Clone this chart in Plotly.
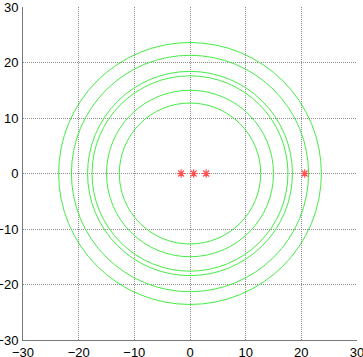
import plotly.graph_objects as go

# Circle radii (all centred at origin)
circle_cx = [0, 0, 0, 0, 0, 0]
circle_cy = [0, 0, 0, 0, 0, 0]
circle_r = [23.6, 21.3, 18.4, 17.6, 15.0, 12.7]

# Red star markers
star_x = [-1.6, 0.65, 2.9, 20.6]
star_y = [0, 0, 0, 0]

tick_vals = [-30, -20, -10, 0, 10, 20, 30]

fig = go.Figure()

fig.add_trace(go.Scatter(
    x=star_x, y=star_y, mode="markers",
    marker=dict(symbol="asterisk-open", size=7, color="rgb(255,80,80)",
                line=dict(color="rgb(255,70,70)", width=1.2)),
    showlegend=False, hoverinfo="skip"))

for cx, cy, r in zip(circle_cx, circle_cy, circle_r):
    fig.add_shape(type="circle", xref="x", yref="y",
                  x0=cx - r, x1=cx + r, y0=cy - r, y1=cy + r,
                  line=dict(color="rgb(70,235,70)", width=1))

axis_common = dict(
    range=[-30, 30], tickvals=tick_vals, showgrid=True,
    gridcolor="rgb(140,140,140)", griddash="1px,1px", gridwidth=1,
    zeroline=False, showline=True, linecolor="rgb(120,120,120)",
    linewidth=1, ticks="", automargin=False, ticklabeloverflow="allow",
    tickfont=dict(family="Liberation Sans, Arial", size=13, color="black"),
)

fig.update_layout(
    width=363, height=357,
    margin=dict(l=23, r=6, t=7, b=17),
    plot_bgcolor="white", paper_bgcolor="white",
    xaxis=dict(**axis_common, ticklabelstandoff=0),
    yaxis=dict(**axis_common, ticklabelstandoff=1),
    showlegend=False,
)

fig.write_html("out.html", config={"displayModeBar": False},
               post_script="document.body.style.margin='0';document.body.style.overflow='hidden';")
